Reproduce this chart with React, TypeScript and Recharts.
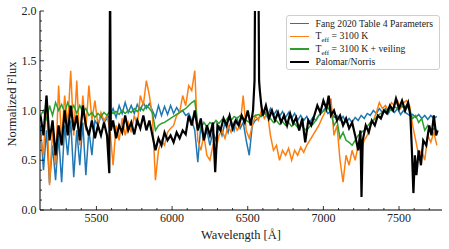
import { Line, LineChart, XAxis, YAxis } from 'recharts'

// shared wavelength grid (Å) for the three model spectra
const wavelengths = [
  5130, 5150, 5170, 5190, 5210, 5230, 5250, 5270, 5290, 5310,
  5330, 5350, 5370, 5390, 5410, 5430, 5450, 5470, 5490, 5510,
  5530, 5550, 5570, 5590, 5610, 5630, 5650, 5670, 5690, 5710,
  5730, 5750, 5770, 5790, 5810, 5830, 5850, 5870, 5890, 5910,
  5930, 5950, 5970, 5990, 6010, 6030, 6050, 6070, 6090, 6110,
  6130, 6150, 6170, 6190, 6210, 6230, 6250, 6270, 6290, 6310,
  6330, 6350, 6370, 6390, 6410, 6430, 6450, 6470, 6490, 6510,
  6530, 6550, 6570, 6590, 6610, 6630, 6650, 6670, 6690, 6710,
  6730, 6750, 6770, 6790, 6810, 6830, 6850, 6870, 6890, 6910,
  6930, 6950, 6970, 6990, 7010, 7030, 7050, 7070, 7090, 7110,
  7130, 7150, 7170, 7190, 7210, 7230, 7250, 7270, 7290, 7310,
  7330, 7350, 7370, 7390, 7410, 7430, 7450, 7470, 7490, 7510,
  7530, 7550, 7570, 7590, 7610, 7630, 7650, 7670, 7690, 7710,
  7730, 7750,
]

const fangFlux = [
  0.85, 0.40, 0.80, 0.27, 0.65, 0.30, 0.75, 0.28, 0.85, 0.55,
  0.90, 0.33, 0.80, 0.45, 0.88, 0.35, 0.80, 0.55, 0.90, 0.85,
  0.95, 0.88, 0.92, 0.95, 1.02, 0.93, 1.05, 0.97, 1.08, 0.98,
  1.05, 0.97, 1.06, 1.00, 1.08, 1.02, 1.07, 1.00, 0.93, 1.05,
  0.95, 1.04, 0.96, 1.05, 0.97, 1.03, 0.98, 1.00, 0.95, 0.97,
  0.90, 0.80, 0.48, 0.85, 0.70, 0.80, 0.65, 0.78, 0.70, 0.85,
  0.75, 0.88, 0.78, 0.90, 0.80, 0.92, 0.82, 0.88, 0.70, 0.55,
  0.85, 0.90, 0.92, 0.95, 1.00, 0.93, 1.02, 0.95, 1.00, 0.94,
  0.99, 0.93, 0.98, 0.92, 0.97, 0.90, 0.95, 0.90, 0.94, 0.88,
  0.93, 0.90, 0.95, 0.98, 1.02, 0.97, 1.00, 0.93, 0.95, 0.90,
  0.94, 0.88, 0.92, 0.88, 0.93, 0.90, 0.95, 0.92, 0.97, 0.95,
  1.00, 0.97, 1.02, 0.98, 1.02, 0.97, 1.03, 0.98, 1.02, 0.96,
  1.00, 0.97, 0.95, 0.96, 0.93, 0.96, 0.92, 0.95, 0.91, 0.95,
  0.92, 0.94,
]

const teffFlux = [
  0.75, 0.55, 1.15, 0.25, 0.80, 0.45, 1.25, 0.70, 1.15, 0.85,
  1.40, 0.75, 1.30, 0.65, 1.15, 0.80, 1.25, 0.90, 1.10, 0.85,
  0.98, 0.90, 0.95, 0.80, 0.45, 0.85, 0.70, 0.92, 0.75, 0.88,
  0.78, 0.95, 0.85, 1.15, 1.05, 1.30, 1.15, 0.95, 0.30, 0.60,
  0.70, 0.65, 0.78, 0.82, 0.85, 0.95, 0.98, 1.15, 1.05, 1.25,
  1.20, 1.40, 0.70, 0.60, 0.75, 0.55, 0.50, 0.65, 0.60, 0.75,
  0.80, 0.72, 0.85, 0.78, 0.88, 0.80, 0.85, 1.15, 0.80, 0.72,
  0.85, 0.95, 0.90, 1.00, 0.92, 0.98, 0.75, 0.60, 0.65, 0.50,
  0.60, 0.55, 0.62, 0.50, 0.60, 0.55, 0.63, 0.58, 0.65, 0.70,
  0.75, 0.80, 0.85, 0.92, 0.98, 1.05, 1.12, 0.75, 0.85, 0.50,
  0.28, 0.55, 0.45, 0.60, 0.50, 0.65, 0.60, 0.70, 0.75, 0.85,
  0.90, 0.98, 1.08, 1.02, 1.05, 1.00, 1.08, 1.05, 1.10, 1.02,
  1.08, 1.10, 1.05, 0.85, 0.70, 0.55, 0.60, 0.50, 0.75, 0.68,
  0.78, 0.65,
]

const veilingFlux = [
  0.95, 1.00, 0.90, 1.05, 0.95, 1.08, 1.00, 1.06, 0.98, 1.08,
  1.00, 1.05, 0.97, 1.05, 0.98, 1.02, 0.95, 0.98, 0.93, 0.97,
  0.94, 0.98, 0.95, 1.00, 0.97, 0.99, 0.96, 1.00, 0.97, 1.00,
  0.98, 1.02, 0.99, 1.03, 1.00, 1.05, 1.02, 0.98, 0.80, 0.85,
  0.87, 0.88, 0.90, 0.92, 0.94, 0.96, 0.98, 1.00, 1.02, 1.05,
  1.08, 1.10, 0.85, 0.82, 0.88, 0.84, 0.88, 0.86, 0.90, 0.87,
  0.91, 0.89, 0.93, 0.90, 0.94, 0.92, 0.95, 0.92, 0.90, 0.88,
  0.93, 0.95, 0.96, 0.94, 0.97, 0.95, 0.92, 0.88, 0.90, 0.86,
  0.89, 0.85, 0.88, 0.84, 0.87, 0.83, 0.86, 0.82, 0.80, 0.84,
  0.86, 0.90, 0.95, 0.98, 1.00, 1.03, 0.98, 0.85, 0.90, 0.72,
  0.78, 0.70, 0.68, 0.65, 0.70, 0.75, 0.78, 0.80, 0.84, 0.88,
  0.90, 0.93, 0.96, 0.98, 1.00, 1.02, 1.00, 1.04, 1.02, 1.05,
  1.03, 1.05, 1.00, 0.92, 0.95, 0.88, 0.92, 0.80, 0.85, 0.78,
  0.82, 0.80,
]

// observed spectrum has its own sampling (sky line, H-alpha, telluric dips)
const palomarWave = [
  5130, 5150, 5170, 5190, 5210, 5230, 5250, 5270, 5290, 5310,
  5330, 5350, 5370, 5390, 5410, 5430, 5450, 5470, 5490, 5510,
  5530, 5550, 5570, 5585, 5590, 5595, 5610, 5630, 5650, 5670,
  5690, 5710, 5730, 5750, 5770, 5790, 5810, 5830, 5850, 5870,
  5890, 5910, 5930, 5950, 5970, 5990, 6010, 6030, 6050, 6070,
  6090, 6110, 6130, 6150, 6170, 6190, 6210, 6230, 6250, 6270,
  6285, 6300, 6320, 6340, 6360, 6380, 6400, 6420, 6440, 6460,
  6480, 6500, 6520, 6535, 6545, 6550, 6560, 6570, 6575, 6580,
  6590, 6600, 6620, 6640, 6660, 6680, 6700, 6720, 6740, 6760,
  6780, 6800, 6820, 6840, 6860, 6880, 6900, 6920, 6940, 6960,
  6980, 7000, 7020, 7035, 7050, 7070, 7090, 7110, 7130, 7150,
  7170, 7190, 7210, 7230, 7245, 7252, 7260, 7280, 7300, 7320,
  7340, 7360, 7380, 7400, 7420, 7440, 7460, 7480, 7500, 7520,
  7540, 7560, 7575, 7585, 7595, 7605, 7615, 7630, 7645, 7660,
  7680, 7700, 7715, 7730, 7745, 7755,
]

const palomarFlux = [
  0.95, 0.75, 1.15, 0.70, 0.90, 0.55, 0.85, 0.65, 1.00, 0.75,
  1.05, 0.80, 0.95, 0.70, 1.05, 0.85, 0.75, 0.90, 0.72, 0.85,
  0.75, 0.88, 0.75, 0.37, 2.40, 0.80, 0.90, 0.72, 0.85, 0.78,
  0.95, 0.80, 0.88, 0.76, 0.90, 0.82, 0.95, 0.80, 0.90, 0.75,
  0.60, 0.72, 0.65, 0.78, 0.70, 0.75, 0.68, 0.78, 0.72, 0.80,
  0.76, 0.95, 0.85, 1.00, 0.80, 0.92, 0.70, 0.85, 0.75, 0.88,
  0.38, 0.85, 0.80, 0.92, 0.85, 0.95, 0.82, 0.90, 0.85, 0.95,
  0.88, 1.00, 0.85, 1.00, 1.30, 2.60, 3.20, 2.60, 1.30, 1.20,
  1.05, 0.95, 1.05, 0.92, 1.00, 0.90, 0.98, 0.88, 0.95, 0.85,
  0.97, 0.87, 0.93, 0.80, 0.92, 0.68, 0.90, 0.85, 0.95, 1.05,
  0.98, 1.10, 1.02, 1.15, 0.95, 1.00, 0.90, 0.95, 0.85, 0.92,
  0.82, 0.88, 0.75, 0.60, 0.80, 0.13, 0.70, 0.85, 0.78, 0.90,
  0.85, 0.95, 0.92, 1.00, 0.97, 1.05, 1.00, 1.12, 1.02, 1.10,
  1.00, 1.08, 0.95, 0.60, 0.17, 0.55, 0.35, 0.60, 0.45, 0.70,
  0.65, 0.85, 0.75, 0.95, 0.75, 0.80,
]

const xTicks = [
  5200, 5300, 5400, 5500, 5600, 5700, 5800, 5900, 6000, 6100, 6200, 6300, 6400,
  6500, 6600, 6700, 6800, 6900, 7000, 7100, 7200, 7300, 7400, 7500, 7600, 7700,
]
const xLabelTicks = [5500, 6000, 6500, 7000, 7500]
const yTicks = [
  0, 0.1, 0.2, 0.3, 0.4, 0.5, 0.6, 0.7, 0.8, 0.9, 1.0,
  1.1, 1.2, 1.3, 1.4, 1.5, 1.6, 1.7, 1.8, 1.9, 2.0,
]
const yLabelTicks = ['0.0', '0.5', '1.0', '1.5', '2.0']

const FONT = 'Liberation Serif, serif'

const fang = wavelengths.map((w, i) => ({ w, f: fangFlux[i] }))
const teff = wavelengths.map((w, i) => ({ w, f: teffFlux[i] }))
const veiling = wavelengths.map((w, i) => ({ w, f: veilingFlux[i] }))
const palomar = palomarWave.map((w, i) => ({ w, f: palomarFlux[i] }))

const legendRows = [
  { color: '#1f77b4', width: 1.5, label: <>Fang 2020 Table 4 Parameters</> },
  { color: '#ff7f0e', width: 1.5, label: <>T<sub style={{ fontSize: 7 }}>eff</sub> = 3100 K</> },
  { color: '#2ca02c', width: 1.5, label: <>T<sub style={{ fontSize: 7 }}>eff</sub> = 3100 K + veiling</> },
  { color: '#000000', width: 2, label: <>Palomar/Norris</> },
]

function XTick({ x, y, payload }: any) {
  const major = xLabelTicks.includes(payload.value)
  return (
    <g>
      <line x1={x} x2={x} y1={y} y2={y - (major ? 4 : 2)} stroke="#000" strokeWidth={0.8} />
      {major && (
        <text x={x} y={y + 12} textAnchor="middle" fontSize={12} fontFamily={FONT} fill="#222">
          {payload.value}
        </text>
      )}
    </g>
  )
}

function YTick({ x, y, payload }: any) {
  const label = payload.value.toFixed(1)
  const major = yLabelTicks.includes(label)
  return (
    <g>
      <line x1={x} x2={x + (major ? 4 : 2)} y1={y} y2={y} stroke="#000" strokeWidth={0.8} />
      {major && (
        <text x={x - 3.5} y={y + 4} textAnchor="end" fontSize={12} fontFamily={FONT} fill="#222">
          {label}
        </text>
      )}
    </g>
  )
}

export default function App() {
  return (
    <div style={{ position: 'absolute', left: 0, top: 0, width: 449, height: 249, background: '#fff' }}>
      <LineChart width={449} height={249} margin={{ top: 11, right: 7, bottom: 0, left: 0 }}>
        <XAxis
          dataKey="w"
          type="number"
          domain={[5127, 7784]}
          allowDataOverflow
          ticks={xTicks}
          interval={0}
          height={39}
          tickSize={0}
          tickMargin={0}
          tickLine={false}
          tick={<XTick />}
          stroke="#000"
          label={{
            content: () => (
              <text x={241} y={239} textAnchor="middle" fontSize={12.5} fontFamily={FONT} fill="#222">
                Wavelength [Å]
              </text>
            ),
          }}
        />
        <XAxis xAxisId="top" orientation="top" type="number" domain={[5127, 7784]} height={0} tick={false} tickLine={false} stroke="#000" />
        <YAxis
          type="number"
          domain={[0, 2]}
          allowDataOverflow
          ticks={yTicks}
          interval={0}
          width={40}
          tickSize={0}
          tickMargin={0}
          tickLine={false}
          tick={<YTick />}
          stroke="#000"
          label={{
            content: () => (
              <text transform="rotate(-90)" x={-104} y={16} textAnchor="middle" fontSize={12.5} fontFamily={FONT} fill="#222">
                Normalized Flux
              </text>
            ),
          }}
        />
        <YAxis yAxisId="right" orientation="right" type="number" domain={[0, 2]} width={0} tick={false} tickLine={false} stroke="#000" />
        <Line data={fang} dataKey="f" stroke="#1f77b4" strokeWidth={1.5} dot={false} isAnimationActive={false} />
        <Line data={teff} dataKey="f" stroke="#ff7f0e" strokeWidth={1.5} dot={false} isAnimationActive={false} />
        <Line data={veiling} dataKey="f" stroke="#2ca02c" strokeWidth={1.5} dot={false} isAnimationActive={false} />
        <Line data={palomar} dataKey="f" stroke="#000000" strokeWidth={2.2} dot={false} isAnimationActive={false} />
      </LineChart>
      <div
        style={{
          position: 'absolute', left: 285.5, top: 14.5, width: 152, height: 53,
          border: '1px solid #cfcfcf', borderRadius: 3, background: 'rgba(255,255,255,0.85)',
          fontFamily: FONT, fontSize: 9.7, color: '#222',
        }}
      >
        {legendRows.map((r, i) => (
          <div key={i} style={{ position: 'absolute', left: 0, top: 2 + i * 12.8, height: 12, width: 152 }}>
            <div style={{ position: 'absolute', left: 3, top: 6 - r.width / 2, width: 19, height: r.width, background: r.color }} />
            <div style={{ position: 'absolute', left: 29, top: 0, lineHeight: '12px', whiteSpace: 'nowrap' }}>{r.label}</div>
          </div>
        ))}
      </div>
    </div>
  )
}
